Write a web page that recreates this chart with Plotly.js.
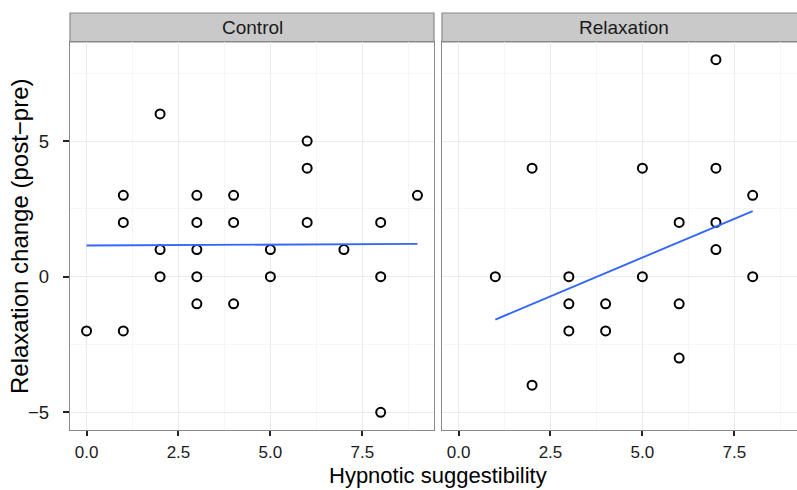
<!DOCTYPE html>
<html><head><meta charset="utf-8">
<script src="https://cdn.plot.ly/plotly-3.0.1.min.js"></script>
<style>html,body{margin:0;padding:0;background:#fff}#chart{width:797px;height:490px}</style>
</head><body><div id="chart"></div>
<script>
// Control group
const controlX = [0,1,1,1,2,2,2,3,3,3,3,3,4,4,4,5,5,6,6,6,7,8,8,8,9];
const controlY = [-2,3,2,-2,6,1,0,3,2,1,0,-1,3,2,-1,1,0,5,4,2,1,2,0,-5,3];
// Relaxation group
const relaxX = [1,2,2,3,3,3,4,4,5,5,6,6,6,7,7,7,7,8,8];
const relaxY = [0,4,-4,0,-1,-2,-1,-2,4,0,2,-1,-3,8,4,2,1,3,0];
// fitted lines (endpoints)
const controlFitX = [0, 9];
const controlFitY = [1.15, 1.21];
const relaxFitX = [1, 8];
const relaxFitY = [-1.58, 2.42];
const panelNames = ["Control", "Relaxation"];
const xTickVals = [0, 2.5, 5, 7.5];
const yTickVals = [-5, 0, 5];

const FONT = "Liberation Sans, Arial, Helvetica, sans-serif";
const W = 797, H = 490, ML = 70, MR = 0, MT = 13, MB = 60;
const PW = W - ML - MR, PH = H - MT - MB;
const stripH = 29;
const yTop = (PH - stripH) / PH;
const d1 = [0, 364 / PW];
const d2 = [372 / PW, 1];

const mk = {symbol: 'circle-open', size: 9, color: '#000', line: {width: 2, color: '#000'}};
const lineStyle = {color: '#3366FF', width: 1.9};

const traces = [
  {x: controlX, y: controlY, mode: 'markers', type: 'scatter', marker: mk, xaxis: 'x', yaxis: 'y'},
  {x: controlFitX, y: controlFitY, mode: 'lines', type: 'scatter', line: lineStyle, xaxis: 'x', yaxis: 'y'},
  {x: relaxX, y: relaxY, mode: 'markers', type: 'scatter', marker: mk, xaxis: 'x2', yaxis: 'y2'},
  {x: relaxFitX, y: relaxFitY, mode: 'lines', type: 'scatter', line: lineStyle, xaxis: 'x2', yaxis: 'y2'}
];

const xBase = {
  tickmode: 'array', tickvals: xTickVals, ticktext: xTickVals.map(v => v.toFixed(1)),
  showgrid: true, gridcolor: '#EBEBEB', gridwidth: 1, zeroline: false,
  minor: {tickmode: 'array', tickvals: [1.25, 3.75, 6.25, 8.75], showgrid: true, gridcolor: '#F6F6F6', gridwidth: 1, ticklen: 0},
  ticks: 'outside', ticklen: 5, tickwidth: 2, tickcolor: '#222',
  ticklabelstandoff: 1,
  tickfont: {family: FONT, size: 17, color: '#1a1a1a'},
  showline: true, linecolor: '#8a8a8a', linewidth: 1.2, mirror: true
};
const yBase = {
  range: [-5.65, 8.65], tickmode: 'array', tickvals: yTickVals, ticktext: yTickVals.map(v => v < 0 ? '\u2212' + Math.abs(v) : String(v)),
  showgrid: true, gridcolor: '#EBEBEB', gridwidth: 1, zeroline: false,
  minor: {tickmode: 'array', tickvals: [-2.5, 2.5, 7.5], showgrid: true, gridcolor: '#F6F6F6', gridwidth: 1, ticklen: 0},
  domain: [0, yTop],
  showline: true, linecolor: '#8a8a8a', linewidth: 1.2
};

const layout = {
  width: W, height: H,
  margin: {l: ML, r: MR, t: MT, b: MB, pad: 0},
  paper_bgcolor: '#fff', plot_bgcolor: '#fff',
  showlegend: false,
  font: {family: FONT},
  xaxis: Object.assign({}, xBase, {domain: d1, range: [-0.45, 9.45], anchor: 'y'}),
  xaxis2: Object.assign({}, xBase, {domain: d2, range: [-0.45, 9.205], anchor: 'y2'}),
  yaxis: Object.assign({}, yBase, {anchor: 'x', mirror: true, ticks: 'outside', ticklen: 6, tickwidth: 2, tickcolor: '#222',
    ticklabelstandoff: 10,
    tickfont: {family: FONT, size: 18.5, color: '#1a1a1a'}}),
  yaxis2: Object.assign({}, yBase, {anchor: 'x2', showticklabels: false, ticks: '', mirror: false}),
  shapes: [
    {type: 'rect', xref: 'paper', yref: 'paper', x0: d1[0], x1: d1[1], y0: yTop, y1: 1,
      fillcolor: '#C9C9C9', line: {color: '#8a8a8a', width: 1.2}, layer: 'below'},
    {type: 'rect', xref: 'paper', yref: 'paper', x0: d2[0], x1: d2[1] + 0.02, y0: yTop, y1: 1,
      fillcolor: '#C9C9C9', line: {color: '#8a8a8a', width: 1.2}, layer: 'below'}
  ],
  annotations: [
    {text: panelNames[0], xref: 'paper', yref: 'paper', x: (d1[0] + d1[1]) / 2, y: (yTop + 1) / 2,
      showarrow: false, xanchor: 'center', yanchor: 'middle', font: {family: FONT, size: 19, color: '#1a1a1a'}},
    {text: panelNames[1], xref: 'paper', yref: 'paper', x: (624 - ML) / PW, y: (yTop + 1) / 2,
      showarrow: false, xanchor: 'center', yanchor: 'middle', font: {family: FONT, size: 19, color: '#1a1a1a'}},
    {text: 'Hypnotic suggestibility', xref: 'paper', yref: 'paper', x: (438 - ML) / PW, y: -(MB - 1) / PH,
      showarrow: false, xanchor: 'center', yanchor: 'bottom', borderpad: 0, font: {family: FONT, size: 22, color: '#000'}},
    {text: 'Relaxation change (post\u2212pre)', xref: 'paper', yref: 'paper', x: -(ML - 19) / PW, y: (H - MB - 236) / PH,
      textangle: -90, showarrow: false, xanchor: 'center', yanchor: 'middle', font: {family: FONT, size: 24, color: '#000'}}
  ]
};

Plotly.newPlot('chart', traces, layout, {displayModeBar: false, staticPlot: true});
</script>
</body></html>
